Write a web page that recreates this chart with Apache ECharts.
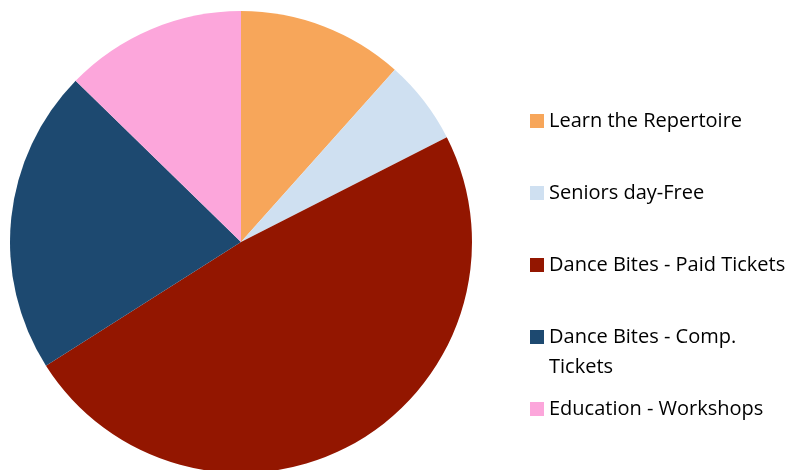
<!DOCTYPE html>
<html>
<head>
<meta charset="utf-8">
<script src="https://cdn.jsdelivr.net/npm/echarts@6/dist/echarts.min.js"></script>
<style>
html,body{margin:0;padding:0;background:#fff;}
#chart{width:796px;height:470px;}
</style>
</head>
<body>
<div id="chart"></div>
<script>
var categories = ['Learn the Repertoire', 'Seniors day-Free', 'Dance Bites - Paid Tickets', 'Dance Bites - Comp. Tickets', 'Education - Workshops'];
var values = [11.6, 5.9, 48.5, 21.3, 12.7];
var colors = ['#F7A65A', '#CFE0F1', '#931600', '#1D4970', '#FCA6DB'];

var chart = echarts.init(document.getElementById('chart'));
var fontFamily = '"Open Sans", "Noto Sans", sans-serif';
chart.setOption({
  animation: false,
  color: colors,
  legend: {
    orient: 'vertical',
    left: 530,
    top: 111,
    padding: 0,
    itemWidth: 14,
    itemHeight: 14,
    itemGap: 52,
    icon: 'rect',
    selectedMode: false,
    data: categories,
    formatter: function (name) {
      return name === 'Dance Bites - Comp. Tickets' ? 'Dance Bites - Comp.' : name;
    },
    textStyle: { fontFamily: fontFamily, fontSize: 20, color: '#000', lineHeight: 20 }
  },
  graphic: [{
    type: 'text',
    left: 549,
    top: 357,
    style: { text: 'Tickets', fontFamily: fontFamily, fontSize: 20, fill: '#000' }
  }],
  series: [{
    type: 'pie',
    center: [241, 242],
    radius: 231,
    startAngle: 90,
    clockwise: true,
    label: { show: false },
    labelLine: { show: false },
    silent: true,
    itemStyle: { borderWidth: 0 },
    data: categories.map(function (c, i) { return { name: c, value: values[i] }; })
  }]
});
</script>
</body>
</html>
